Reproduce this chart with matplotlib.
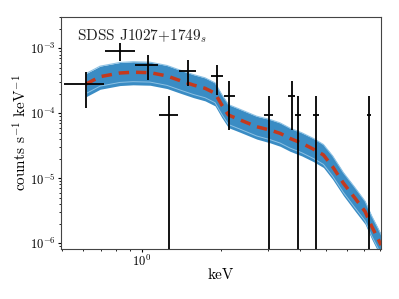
import matplotlib
matplotlib.use('Agg')
import matplotlib.pyplot as plt
import numpy as np

plt.rcParams['font.family'] = 'serif'
plt.rcParams['font.serif'] = ['cmr10', 'DejaVu Serif']
plt.rcParams['mathtext.fontset'] = 'cm'
plt.rcParams['axes.unicode_minus'] = False
plt.rcParams['axes.formatter.use_mathtext'] = True

# data points (keV, counts/s/keV)
x_c = [0.615, 0.827, 1.054, 1.273, 1.495, 1.926, 2.15, 3.03, 3.70, 3.92, 4.59, 7.27]
x_lo = [0.507, 0.726, 0.943, 1.166, 1.389, 1.828, 2.053, 2.92, 3.59, 3.82, 4.48, 7.14]
x_hi = [0.721, 0.943, 1.156, 1.377, 1.606, 2.04, 2.26, 3.14, 3.81, 4.03, 4.71, 7.40]
y_c = [2.82e-4, 9.2e-4, 5.54e-4, 9.3e-5, 4.52e-4, 3.71e-4, 1.85e-4, 9.4e-5, 1.87e-4, 9.3e-5, 9.3e-5, 9.3e-5]
y_hi = [4.3e-4, 1.19e-3, 7.9e-4, 1.85e-4, 6.6e-4, 5.53e-4, 3.14e-4, 1.85e-4, 3.14e-4, 1.85e-4, 1.85e-4, 1.85e-4]
y_lo = [1.19e-4, 6.4e-4, 3.25e-4, 1e-7, 2.63e-4, 1.91e-4, 5.5e-5, 1e-7, 5.5e-5, 1e-7, 1e-7, 1e-7]

# model median and band
m_x = [0.615, 0.695, 0.827, 0.927, 1.075, 1.247, 1.398, 1.570, 1.739, 1.897, 2.012, 2.132, 2.36,
       2.73, 3.07, 3.35, 3.65, 4.05, 4.48, 4.89, 5.30, 5.82, 6.45, 7.04, 7.46, 7.91, 8.09]
m_y = [2.82e-4, 3.66e-4, 4.17e-4, 4.28e-4, 4.22e-4, 3.75e-4, 3.18e-4, 2.72e-4, 2.42e-4, 2.03e-4,
       1.34e-4, 9.4e-5, 7.9e-5, 6.2e-5, 5.5e-5, 4.9e-5, 4.1e-5, 3.45e-5, 2.8e-5, 2.28e-5, 1.5e-5,
       8.4e-6, 4.9e-6, 3.06e-6, 1.8e-6, 1.13e-6, 9.3e-7]
band_hi = [4.09e-4, 5.31e-4, 6.05e-4, 6.21e-4, 6.12e-4, 5.44e-4, 4.61e-4, 3.94e-4, 3.51e-4, 2.94e-4,
           1.94e-4, 1.36e-4, 1.15e-4, 9.0e-5, 8.0e-5, 7.1e-5, 5.9e-5, 5.0e-5, 4.1e-5, 3.3e-5, 2.2e-5,
           1.22e-5, 7.1e-6, 4.4e-6, 2.6e-6, 1.64e-6, 1.35e-6]
band_lo = [1.80e-4, 2.34e-4, 2.67e-4, 2.74e-4, 2.70e-4, 2.40e-4, 2.04e-4, 1.74e-4, 1.55e-4, 1.30e-4,
           8.6e-5, 6.0e-5, 5.1e-5, 4.0e-5, 3.5e-5, 3.1e-5, 2.6e-5, 2.2e-5, 1.8e-5, 1.46e-5, 9.6e-6,
           5.4e-6, 3.1e-6, 1.96e-6, 1.15e-6, 7.2e-7, 6.0e-7]

fig = plt.figure(figsize=(3.99, 2.99), dpi=100)
ax = fig.add_axes([0.153, 0.167, 0.802, 0.776])

ax.fill_between(m_x, band_lo, band_hi, color='#3a8cc4', lw=0)
ax.plot(m_x, band_hi, color='#8ec2e4', lw=0.8)
lo_streak = np.sqrt(np.sqrt(np.array(band_lo) * np.array(m_y)) * np.array(band_lo))
ax.plot(m_x, lo_streak, color='#8ec2e4', lw=0.7)
ax.plot(m_x, m_y, color='#c4391d', lw=2.5, ls=(0, (3, 2)))

xc = np.array(x_c)
yc = np.array(y_c)
ax.errorbar(xc, yc, xerr=[xc - np.array(x_lo), np.array(x_hi) - xc],
            yerr=[yc - np.array(y_lo), np.array(y_hi) - yc],
            fmt='none', ecolor='black', elinewidth=1.3, capsize=0, zorder=5)

ax.set_xscale('log')
ax.set_yscale('log')
ax.set_xlim(0.494, 8.09)
ax.set_ylim(8.1e-7, 3.03e-3)
ax.set_xlabel('keV', fontsize=11, labelpad=0)
ax.set_ylabel(r'counts s$^{-1}$ keV$^{-1}$', fontsize=11, labelpad=0)
ax.tick_params(labelsize=9, length=2.2, pad=1.5)
ax.tick_params(axis='x', pad=1)
ax.tick_params(which='minor', length=1.4)
for s in ax.spines.values():
    s.set_color('#444444')
ax.text(0.05, 0.955, r'SDSS J1027+1749$_s$', transform=ax.transAxes,
        fontsize=11, va='top', ha='left', color='#222222')

fig.savefig('out.png', dpi=100)
